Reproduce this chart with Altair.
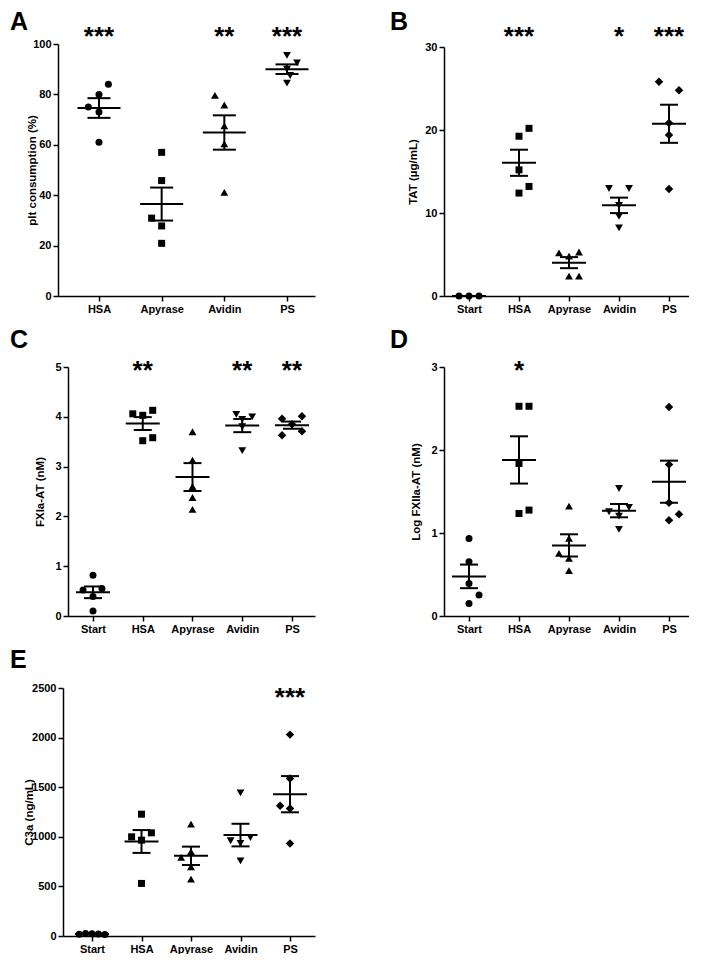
import altair as alt
import pandas as pd
import numpy as np

FONT = "Liberation Sans"
BLACK = "#000000"
SHAPES = ["circle", "square", "triangle-up", "triangle-down", "diamond"]
SYM_SIZE = {"circle": 49, "square": 49, "triangle-up": 62, "triangle-down": 62, "diamond": 72}

# ---------------- data ----------------
CATS4 = ["HSA", "Apyrase", "Avidin", "PS"]
CATS5 = ["Start", "HSA", "Apyrase", "Avidin", "PS"]

# Panel A: platelet consumption (%)
A_HSA = [84, 80, 75, 73, 61]
A_APY = [57, 45.8, 30.9, 27.8, 20.9]
A_AVI = [79.6, 75.8, 67.5, 60.4, 41.1]
A_PS = [95.5, 92.5, 90, 87.5, 84.5]
A_OFF = [[0.15, 0, -0.17, 0, 0], [0, 0, -0.16, 0, 0], [-0.15, 0, 0, 0, 0], [0, 0.16, 0, 0.05, 0]]
A_STARS = {"HSA": "***", "Avidin": "**", "PS": "***"}

# Panel B: TAT (ug/mL)
B_START = [0, 0, 0]
B_HSA = [20.2, 19.25, 15.2, 13.2, 12.4]
B_APY = [5.2, 4.8, 5.3, 2.4, 2.4]
B_AVI = [12.95, 12.95, 10.9, 9.6, 8.2]
B_PS = [25.8, 24.8, 20.85, 19.4, 12.9]
B_OFF = [[-0.2, 0, 0.2], [0.2, 0, 0, 0.2, 0], [-0.2, 0, 0.2, 0, 0.2], [-0.2, 0.2, 0, 0, 0], [-0.2, 0.2, 0, 0, 0]]
B_STARS = {"HSA": "***", "Avidin": "*", "PS": "***"}

# Panel C: FXIa-AT (nM)
C_START = [0.82, 0.52, 0.55, 0.39, 0.10]
C_HSA = [4.06, 4.03, 4.13, 3.52, 3.58]
C_APY = [3.70, 3.13, 2.6, 2.38, 2.14]
C_AVI = [4.05, 4.0, 3.95, 3.8, 3.32]
C_PS = [3.96, 4.01, 3.85, 3.63, 3.71]
C_OFF = [[0, -0.2, 0.18, 0, 0], [-0.2, 0, 0.2, 0, 0.2], [0, 0, 0, 0, 0], [-0.12, 0.2, 0, 0, 0], [-0.2, 0.2, 0, -0.2, 0.2]]
C_STARS = {"HSA": "**", "Avidin": "**", "PS": "**"}

# Panel D: Log FXIIa-AT (nM)
D_START = [0.935, 0.654, 0.393, 0.253, 0.152]
D_HSA = [2.527, 2.527, 1.837, 1.235, 1.276]
D_APY = [1.324, 0.935, 0.754, 0.694, 0.546]
D_AVI = [1.536, 1.256, 1.308, 1.203, 1.043]
D_PS = [2.519, 1.825, 1.364, 1.227, 1.155]
D_OFF = [[0, 0, 0, 0.2, 0], [0, 0.2, 0, 0, 0.2], [0, 0, -0.2, 0, 0], [0, -0.2, 0.2, 0, 0], [0, 0, 0, 0.2, 0]]
D_STARS = {"HSA": "*"}

# Panel E: C3a (ng/mL)
E_START = [18, 25, 22, 20, 15]
E_HSA = [1228, 1000, 1040, 966, 530]
E_APY = [1128, 792, 850, 698, 574]
E_AVI = [1443, 960, 993, 933, 758]
E_PS = [2030, 1587, 1312, 1285, 933]
E_OFF = [[-0.26, -0.13, 0, 0.13, 0.26], [0, -0.2, 0.2, 0, 0], [0, -0.2, 0, 0, 0], [0, -0.2, 0.2, 0, 0], [0, 0, -0.2, 0, 0]]
E_STARS = {"PS": "***"}


def panel(letter, cats, vals, offs, stars, star_y, ytitle, ydom, yticks,
          width, height, xdom, xr0, yr_top, yoff, title_x, letter_x, letter_y,
          mean_w, cap_w):
    rows = []
    summ = []
    for i, c in enumerate(cats):
        for v, o in zip(vals[i], offs[i]):
            rows.append({"cat": c, "xpos": i + 1 + o, "value": v,
                         "shape": SHAPES[i], "size": SYM_SIZE[SHAPES[i]]})
        arr = np.array(vals[i], dtype=float)
        m = arr.mean()
        s = arr.std(ddof=1) / np.sqrt(len(arr))
        summ.append({"idx": i + 1, "mean": m, "lo": m - s, "hi": m + s})
    pts = pd.DataFrame(rows)
    summ = pd.DataFrame(summ)
    st = pd.DataFrame([{"idx": cats.index(k) + 1, "y": star_y, "text": t} for k, t in stars.items()])

    xs = alt.Scale(domain=xdom, range=[xr0, width], nice=False, zero=False)
    ys = alt.Scale(domain=ydom, range=[height, yr_top], nice=False, zero=False)
    lab = "[" + ",".join("'%s'" % c for c in cats) + "][round(datum.value)-1]"
    xaxis = alt.Axis(values=list(range(1, len(cats) + 1)), labelExpr=lab, title=None, grid=False)
    yaxis = alt.Axis(values=yticks, title=ytitle, titleX=title_x, titleBaseline="middle",
                     offset=yoff, grid=False, format="d")

    X = lambda f: alt.X(f, scale=xs, axis=xaxis)
    Y = lambda f: alt.Y(f, scale=ys, axis=yaxis)

    p = alt.Chart(pts).mark_point(filled=True, opacity=1, color=BLACK, strokeWidth=0).encode(
        x=X("xpos:Q"), y=Y("value:Q"),
        shape=alt.Shape("shape:N", scale=None),
        size=alt.Size("size:Q", scale=None),
    )
    base = alt.Chart(summ)
    mean = base.mark_tick(orient="horizontal", thickness=2, size=mean_w, color=BLACK, opacity=1).encode(
        x=X("idx:Q"), y=Y("mean:Q"))
    cap_lo = base.mark_tick(orient="horizontal", thickness=2, size=cap_w, color=BLACK, opacity=1).encode(
        x=X("idx:Q"), y=Y("lo:Q"))
    cap_hi = base.mark_tick(orient="horizontal", thickness=2, size=cap_w, color=BLACK, opacity=1).encode(
        x=X("idx:Q"), y=Y("hi:Q"))
    sem = base.mark_rule(strokeWidth=2, color=BLACK).encode(x=X("idx:Q"), y=Y("lo:Q"), y2="hi:Q")
    star = alt.Chart(st).mark_text(font=FONT, fontSize=26, fontWeight="bold", baseline="middle",
                                    dy=4, color=BLACK).encode(x=X("idx:Q"), y=Y("y:Q"), text="text:N")
    let = alt.Chart(pd.DataFrame({"t": [letter]})).mark_text(
        font=FONT, fontSize=25, fontWeight="bold", align="left", baseline="alphabetic", color=BLACK
    ).encode(x=alt.value(letter_x), y=alt.value(letter_y), text="t:N")
    return alt.layer(p, sem, mean, cap_lo, cap_hi, star, let).properties(width=width, height=height)


pA = panel("A", CATS4, [A_HSA, A_APY, A_AVI, A_PS], A_OFF, A_STARS, 104.4,
           "plt consumption (%)", [0, 100], [0, 20, 40, 60, 80, 100],
           257, 252, [0.346, 4.447], 0, 0, 0, -26, -48, -14, 43, 23)
pB = panel("B", CATS5, [B_START, B_HSA, B_APY, B_AVI, B_PS], B_OFF, B_STARS, 31.7,
           "TAT (\u00b5g/mL)", [0, 30], [0, 10, 20, 30],
           245, 252, [0.5, 5.4], 0, 3, 0, -31, -54, -14, 34, 18)
pC = panel("C", CATS5, [C_START, C_HSA, C_APY, C_AVI, C_PS], C_OFF, C_STARS, 5.0,
           "FXIa-AT (nM)", [0, 5], [0, 1, 2, 3, 4, 5],
           257, 249, [0.4975, 5.4625], 10, 0, -10, -28, -48, -19, 34, 18)
pD = panel("D", CATS5, [D_START, D_HSA, D_APY, D_AVI, D_PS], D_OFF, D_STARS, 3.0,
           "Log FXIIa-AT (nM)", [0, 3], [0, 1, 2, 3],
           245, 249, [0.5, 5.4], 0, 0, 0, -28, -54, -19, 34, 18)
pE = panel("E", CATS5, [E_START, E_HSA, E_APY, E_AVI, E_PS], E_OFF, E_STARS, 2435,
           "C3a (ng/mL)", [0, 2500], [0, 500, 1000, 1500, 2000, 2500],
           257, 248, [0.414, 5.505], 5, 0, -5, -34, -48, -20, 34, 18)

chart = alt.concat(pA, pB, pC, pD, pE, columns=2, spacing={"row": 14, "column": 75}, align="each").properties(
    padding={"left": 2, "top": 2, "right": 0, "bottom": 0}, background="white"
).configure_view(stroke=None).configure_axis(
    grid=False, domainColor=BLACK, domainWidth=1.5, tickColor=BLACK, tickWidth=1.5, tickSize=5,
    labelFont=FONT, labelFontSize=11, labelFontWeight="bold", labelColor=BLACK, labelPadding=2,
    labelFlush=False, labelOverlap=False,
    titleFont=FONT, titleFontSize=11.5, titleFontWeight="bold", titleColor=BLACK,
)

chart.save("out.html", embed_options={"renderer": "svg", "actions": False})
